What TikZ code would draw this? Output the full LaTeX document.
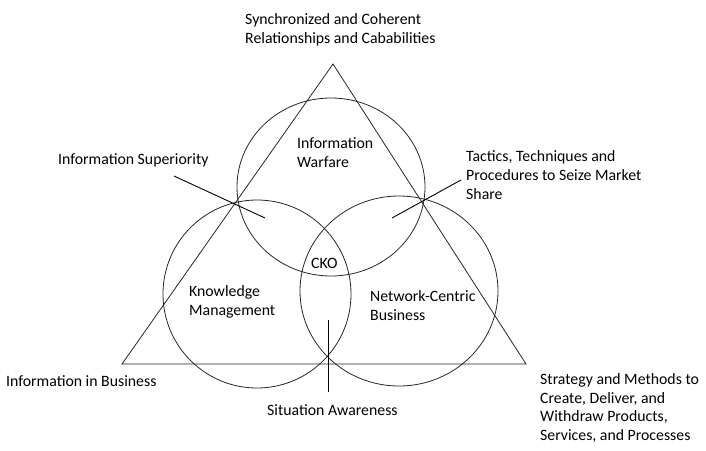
\documentclass[tikz,border=0pt]{standalone}
\usepackage{fontspec}
\setmainfont{Carlito}
\usepackage{tikz}
\usetikzlibrary{positioning}

\begin{document}
\begin{tikzpicture}[
    x=1pt, y=-1pt,
    txt/.style={font=\fontsize{15.8}{18.9}\selectfont, align=left, inner sep=0pt, anchor=west},
    venn/.style={draw=black!85, line width=0.8pt},
    callout/.style={draw=black, line width=0.9pt},
]
    % Frame
    \useasboundingbox (0,0) rectangle (706,450);

    % Triangle
    \coordinate (apex) at (333,64);
    \coordinate (baseL) at (122,364);
    \coordinate (baseR) at (526,364);
    \draw[venn] (apex) -- (baseL) -- (baseR) -- cycle;

    % Circles
    \draw[venn] (331,187) ellipse [x radius=94, y radius=89];
    \draw[venn] (257,294) circle [radius=94];
    \draw[venn] (399,291) ellipse [x radius=99, y radius=95];

    % Callout lines
    \coordinate (supA) at (174,176);
    \coordinate (supB) at (265,218);
    \coordinate (tacA) at (392,218);
    \coordinate (tacB) at (461,180);
    \coordinate (sitA) at (328,320);
    \coordinate (sitB) at (328,392);
    \draw[callout] (supA) -- (supB);
    \draw[callout] (tacA) -- (tacB);
    \draw[callout] (sitA) -- (sitB);

    % Labels
    \node[txt] (sync) at (245,30) {Synchronized and Coherent\\Relationships and Cababilities};
    \node[txt] (warfare) at (297,153) {Information\\Warfare};
    \node[txt] (superiority) at (58,160) {Information Superiority};
    \node[txt] (tactics) at (466,175) {Tactics, Techniques and\\Procedures to Seize Market\\Share};
    \node[txt] (cko) at (311,263) {CKO};
    \node[txt] (knowledge) at (189,302) {Knowledge\\Management};
    \node[txt] (network) at (370,306) {Network-Centric\\Business};
    \node[txt] (infobiz) at (6,381) {Information in Business};
    \node[txt] (situation) at (267,410) {Situation Awareness};
    \node[txt] (strategy) at (540,408) {Strategy and Methods to\\Create, Deliver, and\\Withdraw Products,\\Services, and Processes};
\end{tikzpicture}
\end{document}
